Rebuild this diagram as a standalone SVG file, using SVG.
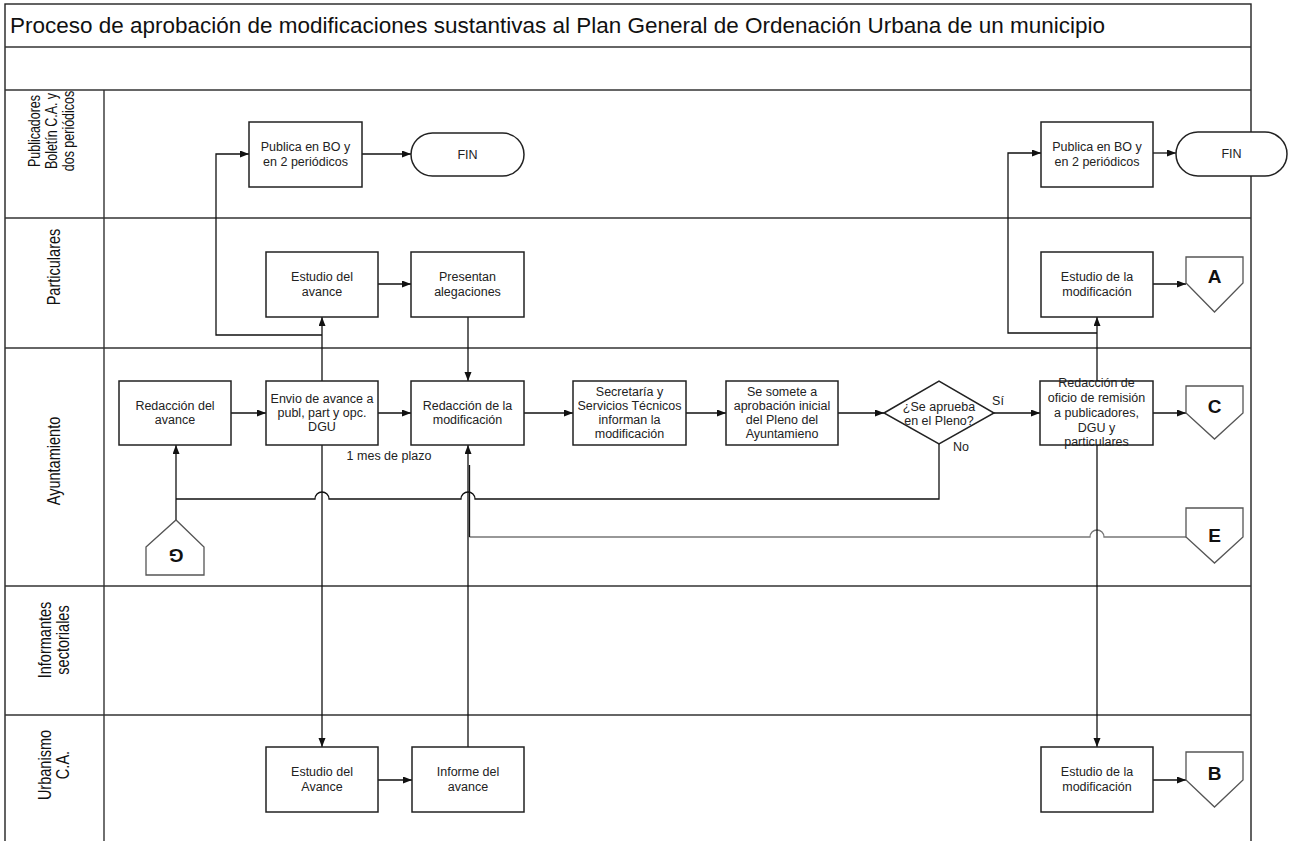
<svg xmlns="http://www.w3.org/2000/svg" width="1295" height="841" viewBox="0 0 1295 841">
<defs>
<marker id="arr" markerWidth="10" markerHeight="8" refX="9" refY="3.5" orient="auto" markerUnits="userSpaceOnUse">
<path d="M0,0 L9,3.5 L0,7 z" fill="#111"/>
</marker>
<style>
.frame{fill:none;stroke:#222;stroke-width:1.4}
.lane{stroke:#333;stroke-width:1.4}
.box{fill:#fff;stroke:#222;stroke-width:1.5}
.conn{fill:#fff;stroke:#555;stroke-width:1.3}
.t{font-family:"Liberation Sans",Arial,sans-serif;font-size:12.5px;fill:#222;text-anchor:middle}
.lt{font-family:"Liberation Sans",Arial,sans-serif;font-size:17.5px;fill:#111;text-anchor:middle}
.lts{font-family:"Liberation Sans",Arial,sans-serif;font-size:16px;fill:#111;text-anchor:middle}
.big{font-family:"Liberation Sans",Arial,sans-serif;font-size:19px;font-weight:bold;fill:#111;text-anchor:middle}
.ln{fill:none;stroke:#111;stroke-width:1.3}
.gray{fill:none;stroke:#777;stroke-width:1.3}
</style>
</defs>
<rect width="1295" height="841" fill="#fff"/>

<g id="frame">
<rect class="frame" x="5" y="4" width="1246" height="850"/>
<line class="lane" x1="5" y1="47" x2="1251" y2="47"/>
<line class="lane" x1="5" y1="90" x2="1251" y2="90"/>
<line class="lane" x1="5" y1="218" x2="1251" y2="218"/>
<line class="lane" x1="5" y1="348" x2="1251" y2="348"/>
<line class="lane" x1="5" y1="586" x2="1251" y2="586"/>
<line class="lane" x1="5" y1="715" x2="1251" y2="715"/>
<line class="lane" x1="104" y1="90" x2="104" y2="841"/>
<text x="10" y="33" font-family="Liberation Sans, Arial, sans-serif" font-size="22.4" fill="#111" textLength="1095" lengthAdjust="spacingAndGlyphs">Proceso de aprobación de modificaciones sustantivas al Plan General de Ordenación Urbana de un municipio</text>
</g>

<g id="lane-labels">
<text class="lts" transform="translate(40,131) rotate(-90) scale(0.78,1)">Publicadores</text>
<text class="lts" transform="translate(57,131) rotate(-90) scale(0.78,1)">Boletín C.A. y</text>
<text class="lts" transform="translate(74,131) rotate(-90) scale(0.78,1)">dos periódicos</text>
<text class="lt" transform="translate(60,267) rotate(-90) scale(0.83,1)">Particulares</text>
<text class="lt" transform="translate(60,461) rotate(-90) scale(0.83,1)">Ayuntamiento</text>
<text class="lt" transform="translate(51,640) rotate(-90) scale(0.83,1)">Informantes</text>
<text class="lt" transform="translate(69,640) rotate(-90) scale(0.83,1)">sectoriales</text>
<text class="lt" transform="translate(51,765) rotate(-90) scale(0.83,1)">Urbanismo</text>
<text class="lt" transform="translate(69,765) rotate(-90) scale(0.83,1)">C.A.</text>
</g>

<g id="connectors">
<path class="ln" d="M231,413 H266" marker-end="url(#arr)"/>
<path class="ln" d="M378,413 H411" marker-end="url(#arr)"/>
<path class="ln" d="M524,413 H573" marker-end="url(#arr)"/>
<path class="ln" d="M686,413 H726" marker-end="url(#arr)"/>
<path class="ln" d="M838,413 H884" marker-end="url(#arr)"/>
<path class="ln" d="M994,413 H1040" marker-end="url(#arr)"/>
<path class="ln" d="M1153,413 H1186" marker-end="url(#arr)"/>
<path class="ln" d="M939,444 V499 H475 A7,7 0 0 0 461,499 H329 A7,7 0 0 0 315,499 H176"/>
<path class="ln" d="M176,520 V445" marker-end="url(#arr)"/>
<path class="ln" d="M322,381 V317" marker-end="url(#arr)"/>
<path class="ln" d="M322,335 H216 V154 H249" marker-end="url(#arr)"/>
<path class="ln" d="M378,284 H411" marker-end="url(#arr)"/>
<path class="ln" d="M468,317 V381" marker-end="url(#arr)"/>
<path class="ln" d="M362,154 H411" marker-end="url(#arr)"/>
<path class="ln" d="M322,445 V747" marker-end="url(#arr)"/>
<path class="ln" d="M378,780 H412" marker-end="url(#arr)"/>
<path class="ln" d="M468,747 V445" marker-end="url(#arr)"/>
<path class="gray" d="M1186,537 H1104 A7,7 0 0 0 1090,537 H469.5"/>
<path class="ln" d="M469.5,537 V465" stroke-width="1.6"/>
<path class="ln" d="M1097,381 V317" marker-end="url(#arr)"/>
<path class="ln" d="M1097,333 H1008 V153 H1041" marker-end="url(#arr)"/>
<path class="ln" d="M1153,284 H1186" marker-end="url(#arr)"/>
<path class="ln" d="M1153,153 H1176" marker-end="url(#arr)"/>
<path class="ln" d="M1097,445 V747" marker-end="url(#arr)"/>
<path class="ln" d="M1153,780 H1186" marker-end="url(#arr)"/>
</g>

<g id="publica1"><rect class="box" x="249" y="122" width="113" height="65"/>
<text class="t" x="305.5" y="151">Publica en BO y</text><text class="t" x="305.5" y="166">en 2 periódicos</text></g>
<g id="fin1"><rect class="box" x="411" y="133" width="113" height="43" rx="21.5" stroke="#444"/>
<text class="t" x="467.5" y="159">FIN</text></g>
<g id="estudio-avance"><rect class="box" x="266" y="252" width="112" height="65"/>
<text class="t" x="322" y="281">Estudio del</text><text class="t" x="322" y="296">avance</text></g>
<g id="presentan"><rect class="box" x="411" y="252" width="113" height="65"/>
<text class="t" x="467.5" y="281">Presentan</text><text class="t" x="467.5" y="296">alegaciones</text></g>
<g id="redaccion-avance"><rect class="box" x="119" y="381" width="112" height="64"/>
<text class="t" x="175" y="410">Redacción del</text><text class="t" x="175" y="424">avance</text></g>
<g id="envio"><rect class="box" x="266" y="381" width="112" height="64"/>
<text class="t" x="322" y="403">Envio de avance a</text><text class="t" x="322" y="417">publ, part y opc.</text><text class="t" x="322" y="431">DGU</text></g>
<g id="redaccion-mod"><rect class="box" x="411" y="381" width="113" height="64"/>
<text class="t" x="467.5" y="410">Redacción de la</text><text class="t" x="467.5" y="424">modificación</text></g>
<g id="secretaria"><rect class="box" x="573" y="381" width="113" height="64"/>
<text class="t" x="629.5" y="396">Secretaría y</text><text class="t" x="629.5" y="410">Servicios Técnicos</text><text class="t" x="629.5" y="424">informan la</text><text class="t" x="629.5" y="438">modificación</text></g>
<g id="somete"><rect class="box" x="726" y="381" width="112" height="64"/>
<text class="t" x="782" y="396">Se somete a</text><text class="t" x="782" y="410">aprobación inicial</text><text class="t" x="782" y="424">del Pleno del</text><text class="t" x="782" y="438">Ayuntamieno</text></g>
<g id="decision"><polygon class="box" points="884,413 939,381 994,413 939,444" stroke="#444"/>
<text class="t" x="939" y="411">¿Se aprueba</text><text class="t" x="939" y="425">en el Pleno?</text>
<text class="t" x="998" y="405">Sí</text><text class="t" x="961" y="451">No</text></g>
<g id="oficio"><rect class="box" x="1040" y="381" width="113" height="64"/>
<text class="t" x="1096.5" y="387">Redacción de</text><text class="t" x="1096.5" y="402">oficio de remisión</text><text class="t" x="1096.5" y="417">a publicadores,</text><text class="t" x="1096.5" y="432">DGU y</text><text class="t" x="1096.5" y="446">particulares</text></g>
<g id="publica2"><rect class="box" x="1041" y="122" width="112" height="65"/>
<text class="t" x="1097" y="151">Publica en BO y</text><text class="t" x="1097" y="166">en 2 periódicos</text></g>
<g id="fin2"><rect class="box" x="1176" y="132" width="111" height="44" rx="22" stroke="#444"/>
<text class="t" x="1231.5" y="158">FIN</text></g>
<g id="estudio-mod-part"><rect class="box" x="1041" y="252" width="112" height="65"/>
<text class="t" x="1097" y="281">Estudio de la</text><text class="t" x="1097" y="296">modificación</text></g>
<g id="estudio-avance-urb"><rect class="box" x="266" y="747" width="112" height="65"/>
<text class="t" x="322" y="776">Estudio del</text><text class="t" x="322" y="791">Avance</text></g>
<g id="informe"><rect class="box" x="412" y="747" width="112" height="65"/>
<text class="t" x="468" y="776">Informe del</text><text class="t" x="468" y="791">avance</text></g>
<g id="estudio-mod-urb"><rect class="box" x="1041" y="747" width="112" height="65"/>
<text class="t" x="1097" y="776">Estudio de la</text><text class="t" x="1097" y="791">modificación</text></g>
<g id="conn-A"><polygon class="conn" points="1186,257 1243,257 1243,283 1214.5,312 1186,283"/>
<text class="big" x="1214.5" y="283">A</text></g>
<g id="conn-C"><polygon class="conn" points="1186,386 1243,386 1243,413 1214.5,439 1186,413"/>
<text class="big" x="1214.5" y="413">C</text></g>
<g id="conn-E"><polygon class="conn" points="1186,508 1243,508 1243,537 1214.5,563 1186,537"/>
<text class="big" x="1214.5" y="542">E</text></g>
<g id="conn-B"><polygon class="conn" points="1186,752 1243,752 1243,780 1214.5,807 1186,780"/>
<text class="big" x="1214.5" y="780">B</text></g>
<g id="conn-G"><polygon class="conn" points="146,547 176,520 204,547 204,575 146,575"/>
<text class="big" transform="translate(176,556) rotate(180)" y="7" font-size="17">G</text></g>
<g id="plazo"><text class="t" x="389" y="460" font-size="12">1 mes de plazo</text></g>
</svg>
